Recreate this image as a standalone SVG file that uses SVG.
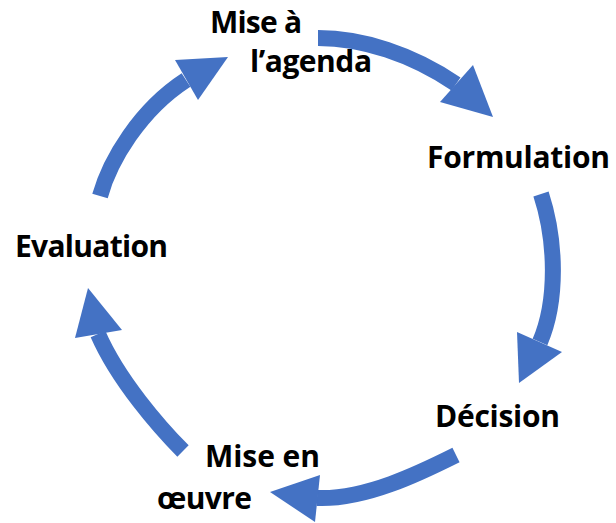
<svg xmlns="http://www.w3.org/2000/svg" width="616" height="523" viewBox="0 0 616 523">
<style>
.body{fill:none;stroke:#4472C4;stroke-width:16;stroke-linecap:butt}
.head{fill:#4472C4}
.lbl{font-family:"Open Sans","Liberation Sans",sans-serif;font-weight:bold;font-size:30px;fill:#000}
</style>
<rect width="616" height="523" fill="#fff"/>
<g id="connectors">
<g id="arrow-agenda-formulation"><path class="body" d="M318,38 C362,38 412,54 456,84"/><polygon class="head" points="473,65 493,117 440,102"/></g>
<g id="arrow-formulation-decision"><path class="body" d="M541,194 C556,240 558,300 540,342"/><polygon class="head" points="517,332 519,383 562,352"/></g>
<g id="arrow-decision-mise"><path class="body" d="M456,455 C420,473 365,500 317,498"/><polygon class="head" points="320,475 270,492 315,522"/></g>
<g id="arrow-mise-evaluation"><path class="body" d="M183,451 C160,428 118,380 98,334"/><polygon class="head" points="75,338 88,288 122,330"/></g>
<g id="arrow-evaluation-agenda"><path class="body" d="M100,196 C110,160 140,110 186,80"/><polygon class="head" points="175,60 228,57 198,100"/></g>
</g>
<g id="node-agenda">
<text class="lbl" x="210" y="33" textLength="92">Mise à</text>
<text class="lbl" x="250" y="72" textLength="122">l’agenda</text>
</g>
<g id="node-formulation"><text class="lbl" x="427" y="168" textLength="183">Formulation</text></g>
<g id="node-decision"><text class="lbl" x="435" y="427" textLength="125">Décision</text></g>
<g id="node-mise-en-oeuvre">
<text class="lbl" x="205" y="467" textLength="115">Mise en</text>
<text class="lbl" x="157" y="509" textLength="95">œuvre</text>
</g>
<g id="node-evaluation"><text class="lbl" x="15" y="257" textLength="153">Evaluation</text></g>
</svg>
